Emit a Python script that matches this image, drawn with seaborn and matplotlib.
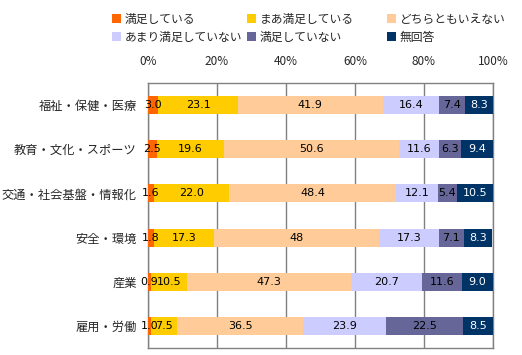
import matplotlib
matplotlib.use("Agg")
import matplotlib.pyplot as plt
import seaborn as sns
import numpy as np
from matplotlib.patches import Patch

# categories (top to bottom)
categories = ["福祉・保健・医療", "教育・文化・スポーツ", "交通・社会基盤・情報化",
              "安全・環境", "産業", "雇用・労働"]
series = ["満足している", "まあ満足している", "どちらともいえない",
          "あまり満足していない", "満足していない", "無回答"]
manzoku = [3.0, 2.5, 1.6, 1.8, 0.9, 1.0]
maa_manzoku = [23.1, 19.6, 22.0, 17.3, 10.5, 7.5]
dochira = [41.9, 50.6, 48.4, 48, 47.3, 36.5]
amari = [16.4, 11.6, 12.1, 17.3, 20.7, 23.9]
fuman = [7.4, 6.3, 5.4, 7.1, 11.6, 22.5]
mukaito = [8.3, 9.4, 10.5, 8.3, 9.0, 8.5]
labels = [["3.0", "2.5", "1.6", "1.8", "0.9", "1.0"],
          ["23.1", "19.6", "22.0", "17.3", "10.5", "7.5"],
          ["41.9", "50.6", "48.4", "48", "47.3", "36.5"],
          ["16.4", "11.6", "12.1", "17.3", "20.7", "23.9"],
          ["7.4", "6.3", "5.4", "7.1", "11.6", "22.5"],
          ["8.3", "9.4", "10.5", "8.3", "9.0", "8.5"]]
colors = ["#FF6600", "#FFCC00", "#FFCC99", "#CCCCFF", "#666699", "#003366"]
text_colors = ["black", "black", "black", "black", "black", "white"]

sns.set_style("white")
plt.rcParams['font.family'] = ['Noto Sans CJK JP', 'DejaVu Sans']

vals = np.array([manzoku, maa_manzoku, dochira, amari, fuman, mukaito])
cum = np.cumsum(vals, axis=0)

fig = plt.figure(figsize=(5.22, 3.55), dpi=100)
ax = fig.add_axes([148 / 522, 1 - 348 / 355, 345 / 522, 265 / 355])

# stacked bars: draw cumulative totals from the last series back to the first
for i in range(len(series) - 1, -1, -1):
    sns.barplot(x=cum[i], y=categories, color=colors[i], width=0.41,
                orient="h", ax=ax, saturation=1, linewidth=0, zorder=3)

for i in range(len(series)):
    for j in range(len(categories)):
        ax.text(cum[i][j] - vals[i][j] / 2, j, labels[i][j], ha="center", va="center",
                fontsize=8, color=text_colors[i], zorder=5, family="DejaVu Sans")

ax.set_xlim(0, 100)
ax.set_ylim(5.5, -0.5)
ax.set_xticks([0, 20, 40, 60, 80, 100])
ax.set_xticklabels(["0%", "20%", "40%", "60%", "80%", "100%"], fontsize=8.5)
ax.xaxis.tick_top()
ax.tick_params(axis="x", length=0, pad=11)
ax.tick_params(axis="y", length=0, pad=8, labelsize=8.8)
ax.set_xlabel("")
ax.set_ylabel("")
ax.grid(axis="x", color="#808080", linewidth=1, zorder=0)
for s in ax.spines.values():
    s.set_color("#808080")
    s.set_linewidth(1)

# legend: three columns placed like the original (two rows each)
handles = [Patch(facecolor=c, edgecolor="none") for c in colors]
col_x = [112, 247, 387]
for c in range(3):
    leg = fig.legend([handles[c], handles[c + 3]], [series[c], series[c + 3]],
                     loc="upper left", bbox_to_anchor=(col_x[c] / 522, 1 - 13 / 355),
                     frameon=False, handlelength=0.8, handleheight=0.8,
                     handletextpad=0.3, labelspacing=0.42, fontsize=8.5,
                     borderaxespad=0, borderpad=0)

fig.savefig("out.png", dpi=100)
